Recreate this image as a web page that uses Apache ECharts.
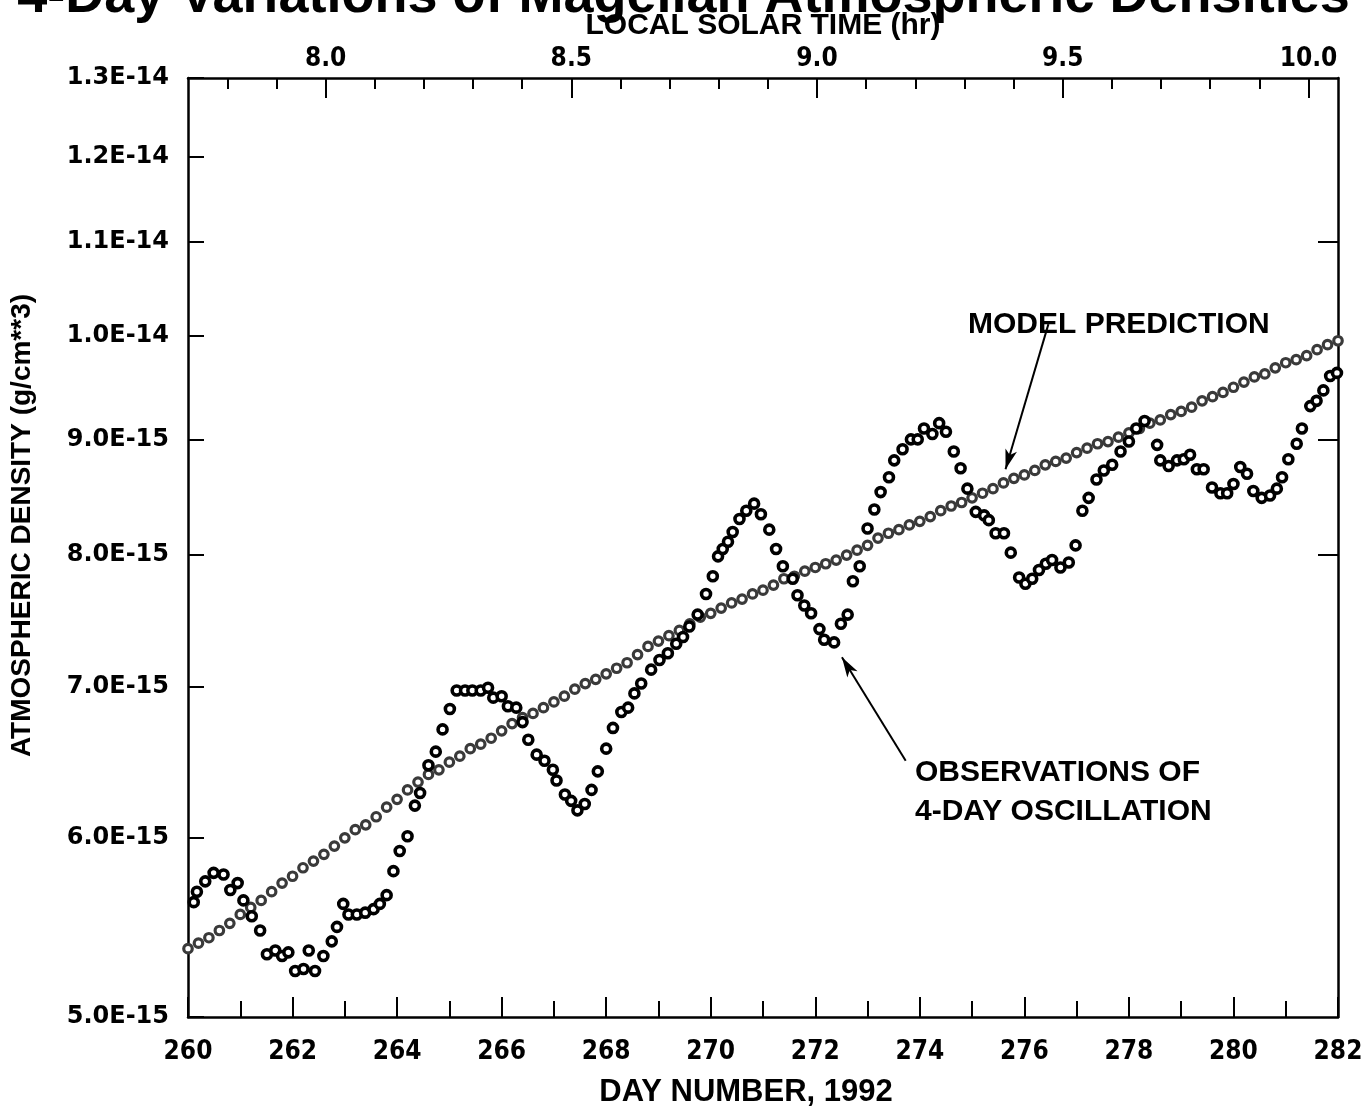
<!DOCTYPE html>
<html>
<head>
<meta charset="utf-8">
<script src="https://cdn.jsdelivr.net/npm/echarts@6/dist/echarts.min.js"></script>
<style>
  html, body { margin: 0; padding: 0; background: #ffffff; }
  #chart { width: 1367px; height: 1114px; }
</style>
</head>
<body>
<div id="chart"></div>
<script>
// Densities are listed in units of 1e-15 g/cm^3
const UNIT = 1e-15;

// Model prediction, sampled every 0.2 day
const modelDays = [
  260, 260.2, 260.4, 260.6, 260.8, 261, 261.2, 261.4, 261.6, 261.8,
  262, 262.2, 262.4, 262.6, 262.8, 263, 263.2, 263.4, 263.6, 263.8,
  264, 264.2, 264.4, 264.6, 264.8, 265, 265.2, 265.4, 265.6, 265.8,
  266, 266.2, 266.4, 266.6, 266.8, 267, 267.2, 267.4, 267.6, 267.8,
  268, 268.2, 268.4, 268.6, 268.8, 269, 269.2, 269.4, 269.6, 269.8,
  270, 270.2, 270.4, 270.6, 270.8, 271, 271.2, 271.4, 271.6, 271.8,
  272, 272.2, 272.4, 272.6, 272.8, 273, 273.2, 273.4, 273.6, 273.8,
  274, 274.2, 274.4, 274.6, 274.8, 275, 275.2, 275.4, 275.6, 275.8,
  276, 276.2, 276.4, 276.6, 276.8, 277, 277.2, 277.4, 277.6, 277.8,
  278, 278.2, 278.4, 278.6, 278.8, 279, 279.2, 279.4, 279.6, 279.8,
  280, 280.2, 280.4, 280.6, 280.8, 281, 281.2, 281.4, 281.6, 281.8,
  282
];
const modelDensity = [
  5.36, 5.39, 5.42, 5.46, 5.50, 5.55, 5.59, 5.63, 5.68, 5.73,
  5.77, 5.82, 5.86, 5.90, 5.95, 6.00, 6.05, 6.08, 6.13, 6.19,
  6.24, 6.30, 6.35, 6.40, 6.43, 6.48, 6.52, 6.57, 6.60, 6.64,
  6.69, 6.74, 6.78, 6.81, 6.85, 6.89, 6.93, 6.98, 7.02, 7.05,
  7.09, 7.13, 7.17, 7.23, 7.29, 7.33, 7.37, 7.41, 7.46, 7.51,
  7.54, 7.58, 7.62, 7.65, 7.69, 7.72, 7.76, 7.81, 7.83, 7.87,
  7.90, 7.93, 7.96, 8.00, 8.04, 8.08, 8.14, 8.18, 8.21, 8.25,
  8.28, 8.32, 8.37, 8.41, 8.44, 8.48, 8.52, 8.56, 8.61, 8.65,
  8.68, 8.72, 8.77, 8.80, 8.83, 8.88, 8.92, 8.96, 8.98, 9.02,
  9.06, 9.10, 9.15, 9.18, 9.23, 9.26, 9.30, 9.36, 9.40, 9.44,
  9.49, 9.54, 9.59, 9.62, 9.68, 9.73, 9.76, 9.80, 9.86, 9.91,
  9.95
];

// Observed densities (4-day oscillation)
const obsDays = [
  260.11, 260.17, 260.33, 260.49, 260.68, 260.81, 260.95, 261.06, 261.22, 261.38,
  261.51, 261.67, 261.80, 261.92, 262.05, 262.21, 262.31, 262.43, 262.59, 262.75,
  262.85, 262.97, 263.07, 263.23, 263.39, 263.55, 263.67, 263.80, 263.93, 264.05,
  264.20, 264.34, 264.44, 264.60, 264.74, 264.87, 265.01, 265.14, 265.30, 265.44,
  265.60, 265.74, 265.84, 266.00, 266.12, 266.28, 266.40, 266.51, 266.67, 266.82,
  266.98, 267.05, 267.21, 267.33, 267.45, 267.59, 267.72, 267.84, 268.00, 268.13,
  268.29, 268.42, 268.54, 268.67, 268.86, 269.02, 269.18, 269.34, 269.47, 269.59,
  269.75, 269.91, 270.04, 270.14, 270.23, 270.33, 270.42, 270.55, 270.68, 270.83,
  270.96, 271.12, 271.25, 271.38, 271.57, 271.66, 271.79, 271.92, 272.08, 272.17,
  272.36, 272.49, 272.62, 272.72, 272.85, 273.00, 273.13, 273.25, 273.41, 273.51,
  273.67, 273.83, 273.96, 274.08, 274.24, 274.37, 274.50, 274.65, 274.78, 274.91,
  275.07, 275.23, 275.32, 275.45, 275.61, 275.74, 275.90, 276.02, 276.15, 276.28,
  276.41, 276.53, 276.69, 276.85, 276.98, 277.11, 277.23, 277.38, 277.52, 277.68,
  277.84, 278.00, 278.14, 278.30, 278.54, 278.60, 278.76, 278.92, 279.05, 279.17,
  279.30, 279.43, 279.59, 279.75, 279.88, 280.00, 280.13, 280.26, 280.38, 280.54,
  280.70, 280.83, 280.93, 281.05, 281.21, 281.31, 281.47, 281.59, 281.72, 281.85,
  281.98
];
const obsDensity = [
  5.62, 5.68, 5.74, 5.79, 5.78, 5.69, 5.73, 5.63, 5.54, 5.46,
  5.33, 5.35, 5.32, 5.34, 5.24, 5.25, 5.35, 5.24, 5.32, 5.40,
  5.48, 5.61, 5.55, 5.55, 5.56, 5.58, 5.61, 5.66, 5.80, 5.92,
  6.01, 6.20, 6.28, 6.46, 6.55, 6.70, 6.84, 6.97, 6.97, 6.97,
  6.97, 6.99, 6.92, 6.93, 6.86, 6.85, 6.75, 6.63, 6.53, 6.49,
  6.43, 6.36, 6.27, 6.23, 6.17, 6.21, 6.30, 6.42, 6.57, 6.71,
  6.82, 6.85, 6.95, 7.02, 7.12, 7.19, 7.24, 7.31, 7.36, 7.44,
  7.53, 7.69, 7.83, 7.99, 8.05, 8.11, 8.19, 8.30, 8.37, 8.43,
  8.34, 8.21, 8.05, 7.91, 7.81, 7.68, 7.60, 7.54, 7.42, 7.34,
  7.32, 7.46, 7.53, 7.79, 7.91, 8.22, 8.38, 8.53, 8.66, 8.81,
  8.91, 9.00, 9.00, 9.10, 9.05, 9.15, 9.07, 8.89, 8.74, 8.56,
  8.36, 8.33, 8.29, 8.18, 8.18, 8.02, 7.82, 7.77, 7.81, 7.88,
  7.93, 7.96, 7.90, 7.94, 8.08, 8.37, 8.48, 8.64, 8.72, 8.77,
  8.89, 8.98, 9.10, 9.17, 8.95, 8.81, 8.76, 8.81, 8.82, 8.86,
  8.73, 8.73, 8.57, 8.52, 8.52, 8.60, 8.75, 8.69, 8.54, 8.48,
  8.50, 8.56, 8.66, 8.82, 8.96, 9.10, 9.31, 9.36, 9.46, 9.60,
  9.63
];

// Axis ticks
const dayRange = [260, 282];
const densityRange = [5, 13];
const densityTicks = [5, 6, 7, 8, 9, 10, 11, 12, 13];
const densityTicksRight = [8, 9, 11];
const solarTimeRange = [7.72, 10.06];
const solarTimeLabels = [8.0, 8.5, 9.0, 9.5, 10.0];
const solarTimeMinorTicks = [7.8, 7.9, 8.0, 8.1, 8.2, 8.3, 8.4, 8.5, 8.6, 8.7, 8.8, 8.9, 9.0,
                             9.1, 9.2, 9.3, 9.4, 9.5, 9.6, 9.7, 9.8, 9.9, 10.0];

// Annotation arrows: [tail, head] as [day, density]
const modelArrow = [[276.46, 10.12], [275.64, 8.73]];
const obsArrow = [[273.73, 6.49], [272.51, 7.21]];

const toSeries = (days, vals) => days.map((d, i) => [d, vals[i] * UNIT]);
// Tick values on the log axis; the end values are nudged inward by a hair so
// floating-point rounding of the axis extent does not drop them.
const logTicks = (arr) => arr.map(v => {
  let t = v;
  if (v === densityRange[0]) t = v * (1 + 1e-9);
  if (v === densityRange[1]) t = v * (1 - 1e-9);
  return t * UNIT;
});

function sciLabel(v) {
  const e = Math.floor(Math.log10(v) + 1e-6);
  const m = v / Math.pow(10, e);
  return m.toFixed(1) + 'E' + e;
}

const AXIS_COLOR = '#000';
const tickFont = { fontFamily: 'DejaVu Sans', fontWeight: 'bold', fontSize: 24, color: '#000' };
const narrowFont = { fontFamily: '"Liberation Sans Narrow", "DejaVu Sans Condensed", sans-serif', fontWeight: 'bold', fontSize: 26, color: '#000' };
const nameFont = { fontFamily: '"Liberation Sans", Arial, sans-serif', fontWeight: 'bold', fontSize: 28, color: '#000' };

const chart = echarts.init(document.getElementById('chart'), null, { renderer: 'canvas' });

const arrowLine = (pts) => [
  { coord: [pts[0][0], pts[0][1] * UNIT], symbol: 'none' },
  { coord: [pts[1][0], pts[1][1] * UNIT], symbol: 'arrow', symbolSize: [9, 20] }
];

chart.setOption({
  animation: false,
  backgroundColor: '#ffffff',
  title: {
    text: '4-Day Variations of Magellan Atmospheric Densities',
    left: 'center',
    top: -30,
    padding: 0,
    textStyle: { fontFamily: '"Liberation Sans", Arial, sans-serif', fontWeight: 'bold', fontSize: 54, color: '#000' }
  },
  grid: { left: 186, right: 29, top: 78, bottom: 97, containLabel: false },
  xAxis: [
    {
      type: 'value', position: 'bottom',
      min: dayRange[0], max: dayRange[1], interval: 2,
      name: 'DAY NUMBER, 1992', nameLocation: 'middle', nameGap: 60,
      nameTextStyle: Object.assign({}, nameFont, { fontSize: 31, padding: [0, 34, 0, 0] }),
      axisLine: { show: true, onZero: false, lineStyle: { color: AXIS_COLOR, width: 2.5 } },
      axisTick: { show: true, inside: true, length: 20, lineStyle: { color: AXIS_COLOR, width: 2 } },
      minorTick: { show: true, splitNumber: 2, length: 16, lineStyle: { color: AXIS_COLOR, width: 2 } },
      axisLabel: Object.assign({ margin: 22, formatter: v => String(v) }, narrowFont),
      splitLine: { show: false }
    },
    {
      type: 'value', position: 'top',
      min: solarTimeRange[0], max: solarTimeRange[1],
      name: 'LOCAL SOLAR TIME (hr)', nameLocation: 'middle', nameGap: 29,
      nameTextStyle: Object.assign({}, nameFont, { fontSize: 30 }),
      axisLine: { show: true, onZero: false, lineStyle: { color: AXIS_COLOR, width: 2.5 } },
      axisTick: { show: true, inside: true, length: 20, customValues: solarTimeLabels, lineStyle: { color: AXIS_COLOR, width: 2 } },
      axisLabel: Object.assign({ margin: 6, customValues: solarTimeLabels, formatter: v => v.toFixed(1) }, narrowFont),
      splitLine: { show: false }
    },
    {
      type: 'value', position: 'top',
      min: solarTimeRange[0], max: solarTimeRange[1],
      axisLine: { show: false },
      axisTick: { show: true, inside: true, length: 11, customValues: solarTimeMinorTicks, lineStyle: { color: AXIS_COLOR, width: 2 } },
      axisLabel: { show: false },
      splitLine: { show: false }
    }
  ],
  yAxis: [
    {
      type: 'log', logBase: 10, position: 'left',
      min: densityRange[0] * UNIT, max: densityRange[1] * UNIT,
      name: 'ATMOSPHERIC DENSITY (g/cm**3)', nameLocation: 'middle', nameGap: 152, nameRotate: 90,
      nameTextStyle: Object.assign({ padding: [0, 0, 0, 44] }, nameFont),
      axisLine: { show: true, onZero: false, lineStyle: { color: AXIS_COLOR, width: 2.5 } },
      axisTick: { show: true, inside: true, length: 16, customValues: logTicks(densityTicks), lineStyle: { color: AXIS_COLOR, width: 2 } },
      axisLabel: Object.assign({ margin: 19, customValues: logTicks(densityTicks), formatter: sciLabel }, tickFont),
      minorTick: { show: false },
      splitLine: { show: false }
    },
    {
      type: 'log', logBase: 10, position: 'right',
      min: densityRange[0] * UNIT, max: densityRange[1] * UNIT,
      axisLine: { show: true, onZero: false, lineStyle: { color: AXIS_COLOR, width: 2.5 } },
      axisTick: { show: true, inside: true, length: 20, customValues: logTicks(densityTicksRight), lineStyle: { color: AXIS_COLOR, width: 2 } },
      axisLabel: { show: false },
      minorTick: { show: false },
      splitLine: { show: false }
    }
  ],
  series: [
    {
      name: 'Model prediction',
      type: 'scatter',
      xAxisIndex: 0, yAxisIndex: 0,
      data: toSeries(modelDays, modelDensity),
      symbol: 'circle', symbolSize: 8.5,
      itemStyle: { color: '#ffffff', borderColor: '#3a3a3a', borderWidth: 3.2, opacity: 1 },
      silent: true,
      z: 2
    },
    {
      name: 'Observations',
      type: 'scatter',
      xAxisIndex: 0, yAxisIndex: 0,
      data: toSeries(obsDays, obsDensity),
      symbol: 'circle', symbolSize: 9,
      itemStyle: { color: '#ffffff', borderColor: '#000000', borderWidth: 3.6, opacity: 1 },
      silent: true,
      z: 3,
      markLine: {
        silent: true,
        animation: false,
        label: { show: false },
        lineStyle: { color: '#000', width: 2, type: 'solid' },
        data: [arrowLine(modelArrow), arrowLine(obsArrow)]
      }
    }
  ],
  graphic: [
    { type: 'text', x: 968, y: 325, style: { text: 'MODEL PREDICTION', font: 'bold 30px "Liberation Sans", Arial, sans-serif', fill: '#000', verticalAlign: 'middle' } },
    { type: 'text', x: 915, y: 773, style: { text: 'OBSERVATIONS OF', font: 'bold 30px "Liberation Sans", Arial, sans-serif', fill: '#000', verticalAlign: 'middle' } },
    { type: 'text', x: 915, y: 812, style: { text: '4-DAY OSCILLATION', font: 'bold 30px "Liberation Sans", Arial, sans-serif', fill: '#000', verticalAlign: 'middle' } }
  ]
});
</script>
</body>
</html>
